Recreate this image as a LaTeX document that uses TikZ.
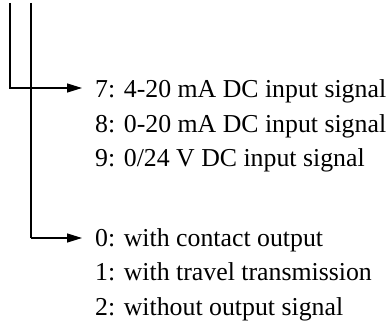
\documentclass[tikz,border=0pt]{standalone}
\usepackage{fontspec}
\setmainfont{Liberation Serif}
\usetikzlibrary{arrows.meta}
\begin{document}
\begin{tikzpicture}[x=1pt,y=-1pt,
  conn/.style={line width=1.3pt,-{Triangle[length=15pt,width=9pt]}},
  wire/.style={line width=1.3pt},
  lbl/.style={anchor=base west,inner sep=0pt,font=\fontsize{25.8}{30}\selectfont}]
\useasboundingbox (0,0) rectangle (390,329);
\coordinate (top1) at (10,3);
\coordinate (top2) at (31,3);
\node[lbl] (l7) at (95,97.7) {7: 4-20 mA DC input signal};
\node[lbl] (l8) at (95,132.2) {8: 0-20 mA DC input signal};
\node[lbl] (l9) at (95,166.7) {9: 0/24 V DC input signal};
\node[lbl] (l0) at (95,246) {0: with contact output};
\node[lbl] (l1) at (95,280.5) {1: with travel transmission};
\node[lbl] (l2) at (95,315) {2: without output signal};
\coordinate (a1) at (82,88);
\coordinate (a2) at (82,238);
\coordinate (c2) at (31,238);
\draw[wire] (top2) -- (c2);
\draw[conn] (top1) |- (a1);
\draw[conn] (c2) -- (a2);
\end{tikzpicture}
\end{document}
